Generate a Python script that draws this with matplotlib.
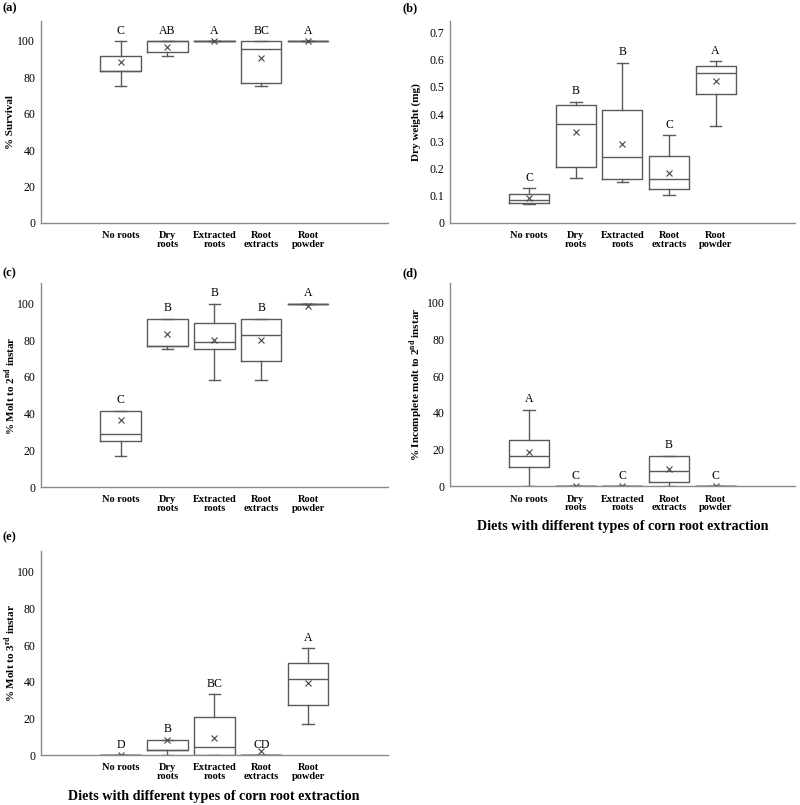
import matplotlib
matplotlib.use("Agg")
import matplotlib.pyplot as plt

plt.rcParams["font.family"] = "Liberation Serif"
plt.rcParams["mathtext.fontset"] = "custom"
plt.rcParams["mathtext.rm"] = "Liberation Serif"
plt.rcParams["mathtext.bf"] = "Liberation Serif:bold"

categories = ["No roots", "Dry\nroots", "Extracted\nroots", "Root\nextracts", "Root\npowder"]

# per category: [whisker low, Q1, median, Q3, whisker high, mean]
survival = [
    [75.0, 83.3, 83.3, 91.7, 100.0, 88.3],
    [91.7, 93.8, 100.0, 100.0, 100.0, 96.9],
    [100.0, 100.0, 100.0, 100.0, 100.0, 100.0],
    [75.0, 77.1, 95.8, 100.0, 100.0, 90.5],
    [100.0, 100.0, 100.0, 100.0, 100.0, 100.0],
]
survival_letters = ["C", "AB", "A", "BC", "A"]

dry_weight = [
    [0.070, 0.073, 0.085, 0.106, 0.128, 0.091],
    [0.167, 0.207, 0.364, 0.435, 0.445, 0.335],
    [0.149, 0.163, 0.244, 0.414, 0.588, 0.291],
    [0.101, 0.124, 0.163, 0.247, 0.323, 0.184],
    [0.356, 0.473, 0.552, 0.578, 0.594, 0.523],
]
dry_weight_letters = ["C", "B", "B", "C", "A"]

molt2 = [
    [16.7, 25.0, 29.1, 41.7, 41.7, 36.4],
    [75.0, 76.7, 76.7, 91.7, 91.7, 83.3],
    [58.3, 75.0, 79.1, 89.5, 100.0, 80.0],
    [58.3, 68.9, 83.1, 91.7, 91.7, 80.0],
    [100.0, 100.0, 100.0, 100.0, 100.0, 98.6],
]
molt2_letters = ["C", "B", "B", "B", "A"]

incomplete = [
    [0.0, 10.5, 16.7, 25.0, 41.7, 18.7],
    [0.0, 0.0, 0.0, 0.0, 0.0, 0.0],
    [0.0, 0.0, 0.0, 0.0, 0.0, 0.0],
    [0.0, 2.2, 8.3, 16.7, 16.7, 9.4],
    [0.0, 0.0, 0.0, 0.0, 0.0, 0.0],
]
incomplete_letters = ["A", "C", "C", "B", "C"]

molt3 = [
    [0.0, 0.0, 0.0, 0.0, 0.0, 0.0],
    [0.0, 2.6, 2.6, 8.3, 8.3, 8.3],
    [0.0, 0.0, 4.2, 20.8, 33.3, 9.5],
    [0.0, 0.0, 0.0, 0.0, 0.0, 2.1],
    [16.7, 27.2, 41.7, 50.1, 58.3, 39.3],
]
molt3_letters = ["D", "B", "BC", "CD", "A"]

BOX_COLOR = "#5a5a5a"
SPINE_COLOR = "#8a8a8a"
XTITLE = "Diets with different types of corn root extraction"


def draw_panel(ax, rows, letters, ylabel, ylim, yticks, yticklabels, label_x):
    stats = []
    for lo, q1, med, q3, hi, mean in rows:
        stats.append(dict(whislo=lo, q1=q1, med=med, q3=q3, whishi=hi, mean=mean, fliers=[]))
    pos = list(range(1, len(rows) + 1))
    ax.bxp(stats, positions=pos, widths=0.86, capwidths=0.25, showmeans=True,
           showfliers=False,
           boxprops=dict(color=BOX_COLOR, linewidth=1.0),
           whiskerprops=dict(color=BOX_COLOR, linewidth=1.0),
           capprops=dict(color=BOX_COLOR, linewidth=1.0),
           medianprops=dict(color=BOX_COLOR, linewidth=1.0),
           meanprops=dict(marker="x", markeredgecolor="#444444", markersize=5,
                          markeredgewidth=0.8))
    for p, row, lab in zip(pos, rows, letters):
        ax.annotate(lab, (p, row[4]), xytext=(0, 7.5), textcoords="offset points",
                    ha="center", va="center", fontsize=8.5)
    ax.set_xlim(-0.7, 6.7)
    ax.set_ylim(*ylim)
    ax.set_yticks(yticks)
    ax.set_yticklabels(yticklabels, fontsize=8.5)
    ax.set_xticks(pos)
    ax.set_xticklabels(categories, fontsize=7.5, fontweight="bold", linespacing=0.95, va="top")
    ax.tick_params(length=0, pad=4)
    ax.tick_params(axis="x", pad=6)
    for s in ["top", "right"]:
        ax.spines[s].set_visible(False)
    for s in ["left", "bottom"]:
        ax.spines[s].set_color(SPINE_COLOR)
        ax.spines[s].set_linewidth(1.0)
    ax.set_ylabel(ylabel, fontsize=8, fontweight="bold")
    ax.yaxis.label.set_va("center")
    ax.yaxis.set_label_coords(label_x, 0.5)


fig = plt.figure(figsize=(8, 8.05), dpi=100)

pct_ticks = [0, 20, 40, 60, 80, 100]
pct_labels = [str(t) for t in pct_ticks]
dw_ticks = [0, 0.1, 0.2, 0.3, 0.4, 0.5, 0.6, 0.7]
dw_labels = ["0"] + [f"{t:.1f}" for t in dw_ticks[1:]]

ax_a = fig.add_axes([0.051, 0.723, 0.434, 0.251])
draw_panel(ax_a, survival, survival_letters, "% Survival", (0, 111), pct_ticks, pct_labels, -0.087)

ax_b = fig.add_axes([0.5625, 0.723, 0.431, 0.251])
draw_panel(ax_b, dry_weight, dry_weight_letters, "Dry weight (mg)", (0, 0.742),
           dw_ticks, dw_labels, -0.099)

ax_c = fig.add_axes([0.051, 0.395, 0.434, 0.253])
draw_panel(ax_c, molt2, molt2_letters, r"% Molt to 2$^{\mathbf{nd}}$ instar", (0, 111),
           pct_ticks, pct_labels, -0.087)

ax_d = fig.add_axes([0.5625, 0.396, 0.431, 0.253])
draw_panel(ax_d, incomplete, incomplete_letters, r"% Incomplete molt to 2$^{\mathbf{nd}}$ instar",
           (0, 111), pct_ticks, pct_labels, -0.097)

ax_e = fig.add_axes([0.051, 0.062, 0.434, 0.253])
draw_panel(ax_e, molt3, molt3_letters, r"% Molt to 3$^{\mathbf{rd}}$ instar", (0, 111),
           pct_ticks, pct_labels, -0.087)

# panel letters
for x, y, lab in [(0.003, 0.990, "(a)"), (0.503, 0.990, "(b)"), (0.003, 0.661, "(c)"),
                  (0.503, 0.660, "(d)"), (0.003, 0.332, "(e)")]:
    fig.text(x, y, lab, fontsize=9, fontweight="bold", ha="left", va="center")

# x-axis titles
fig.text(0.779, 0.3457, XTITLE, fontsize=10.2, fontweight="bold", ha="center", va="center")
fig.text(0.2675, 0.0105, XTITLE, fontsize=10.2, fontweight="bold", ha="center", va="center")

fig.savefig("out.png", dpi=100)
